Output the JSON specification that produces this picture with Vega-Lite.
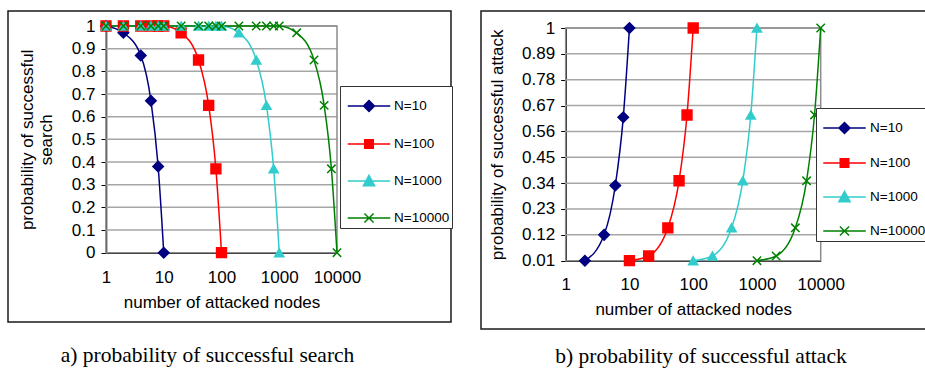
{
  "$schema": "https://vega.github.io/schema/vega-lite/v6.json",
  "padding": {"left": 7, "top": 10, "right": 0, "bottom": 0},
  "background": "white",
  "spacing": 26,
  "config": {
    "font": "Liberation Sans",
    "view": {"stroke": "#1a1a1a", "strokeWidth": 1.5},
    "axis": {"labelFont": "Liberation Sans", "labelFontSize": 17, "labelColor": "black", "titleFont": "Liberation Sans", "titleFontSize": 17, "titleFontWeight": "normal", "titleColor": "black", "grid": false, "domainColor": "black", "tickColor": "black", "domainWidth": 1.5, "labelFlush": false, "labelOverlap": false, "labelExpr": "'' + datum.value"},
    "legend": {"labelFont": "Liberation Sans", "labelFontSize": 13.5, "labelColor": "black"},
    "title": {"font": "Liberation Serif", "fontSize": 21.5, "fontWeight": "normal", "color": "black"}
  },
  "datasets": {
    "search": [
      {"s": "N=10", "x": 1, "y": 1}, {"s": "N=10", "x": 2, "y": 0.97}, {"s": "N=10", "x": 4, "y": 0.87}, {"s": "N=10", "x": 6, "y": 0.67}, {"s": "N=10", "x": 8, "y": 0.38}, {"s": "N=10", "x": 10, "y": 0},
      {"s": "N=100", "x": 1, "y": 1}, {"s": "N=100", "x": 2, "y": 1}, {"s": "N=100", "x": 4, "y": 1}, {"s": "N=100", "x": 6, "y": 1}, {"s": "N=100", "x": 8, "y": 1}, {"s": "N=100", "x": 10, "y": 1}, {"s": "N=100", "x": 20, "y": 0.97}, {"s": "N=100", "x": 40, "y": 0.85}, {"s": "N=100", "x": 60, "y": 0.65}, {"s": "N=100", "x": 80, "y": 0.37}, {"s": "N=100", "x": 100, "y": 0},
      {"s": "N=1000", "x": 1, "y": 1}, {"s": "N=1000", "x": 2, "y": 1}, {"s": "N=1000", "x": 4, "y": 1}, {"s": "N=1000", "x": 6, "y": 1}, {"s": "N=1000", "x": 8, "y": 1}, {"s": "N=1000", "x": 10, "y": 1}, {"s": "N=1000", "x": 20, "y": 1}, {"s": "N=1000", "x": 40, "y": 1}, {"s": "N=1000", "x": 60, "y": 1}, {"s": "N=1000", "x": 80, "y": 1}, {"s": "N=1000", "x": 100, "y": 1}, {"s": "N=1000", "x": 200, "y": 0.97}, {"s": "N=1000", "x": 400, "y": 0.85}, {"s": "N=1000", "x": 600, "y": 0.65}, {"s": "N=1000", "x": 800, "y": 0.37}, {"s": "N=1000", "x": 1000, "y": 0},
      {"s": "N=10000", "x": 1, "y": 1}, {"s": "N=10000", "x": 2, "y": 1}, {"s": "N=10000", "x": 4, "y": 1}, {"s": "N=10000", "x": 6, "y": 1}, {"s": "N=10000", "x": 8, "y": 1}, {"s": "N=10000", "x": 10, "y": 1}, {"s": "N=10000", "x": 20, "y": 1}, {"s": "N=10000", "x": 40, "y": 1}, {"s": "N=10000", "x": 60, "y": 1}, {"s": "N=10000", "x": 80, "y": 1}, {"s": "N=10000", "x": 100, "y": 1}, {"s": "N=10000", "x": 200, "y": 1}, {"s": "N=10000", "x": 400, "y": 1}, {"s": "N=10000", "x": 600, "y": 1}, {"s": "N=10000", "x": 800, "y": 1}, {"s": "N=10000", "x": 1000, "y": 1}, {"s": "N=10000", "x": 2000, "y": 0.97}, {"s": "N=10000", "x": 4000, "y": 0.85}, {"s": "N=10000", "x": 6000, "y": 0.65}, {"s": "N=10000", "x": 8000, "y": 0.37}, {"s": "N=10000", "x": 10000, "y": 0}
    ],
    "attack": [
      {"s": "N=10", "x": 2, "y": 0.01}, {"s": "N=10", "x": 4, "y": 0.12}, {"s": "N=10", "x": 6, "y": 0.33}, {"s": "N=10", "x": 8, "y": 0.62}, {"s": "N=10", "x": 10, "y": 1},
      {"s": "N=100", "x": 10, "y": 0.01}, {"s": "N=100", "x": 20, "y": 0.03}, {"s": "N=100", "x": 40, "y": 0.15}, {"s": "N=100", "x": 60, "y": 0.35}, {"s": "N=100", "x": 80, "y": 0.63}, {"s": "N=100", "x": 100, "y": 1},
      {"s": "N=1000", "x": 100, "y": 0.01}, {"s": "N=1000", "x": 200, "y": 0.03}, {"s": "N=1000", "x": 400, "y": 0.15}, {"s": "N=1000", "x": 600, "y": 0.35}, {"s": "N=1000", "x": 800, "y": 0.63}, {"s": "N=1000", "x": 1000, "y": 1},
      {"s": "N=10000", "x": 1000, "y": 0.01}, {"s": "N=10000", "x": 2000, "y": 0.03}, {"s": "N=10000", "x": 4000, "y": 0.15}, {"s": "N=10000", "x": 6000, "y": 0.35}, {"s": "N=10000", "x": 8000, "y": 0.63}, {"s": "N=10000", "x": 10000, "y": 1}
    ],
    "gridA": [{"y": 0.1}, {"y": 0.2}, {"y": 0.3}, {"y": 0.4}, {"y": 0.5}, {"y": 0.6}, {"y": 0.7}, {"y": 0.8}, {"y": 0.9}, {"y": 1}],
    "gridB": [{"y": 0.12}, {"y": 0.23}, {"y": 0.34}, {"y": 0.45}, {"y": 0.56}, {"y": 0.67}, {"y": 0.78}, {"y": 0.89}, {"y": 1}],
    "one": [{"k": 1}]
  },
  "hconcat": [
    {
      "width": 443, "height": 311,
      "title": {"text": "a) probability of successful search", "orient": "bottom", "offset": 23, "anchor": "middle", "dx": -22},
      "layer": [
        {
          "data": {"name": "gridA"},
          "mark": {"type": "rule", "color": "#a6a6a6", "strokeWidth": 1.5},
          "encoding": {
            "y": {"field": "y", "type": "quantitative", "scale": {"domain": [0, 1], "range": [241.7, 15], "nice": false, "zero": false},
                  "axis": {"values": [0, 0.1, 0.2, 0.3, 0.4, 0.5, 0.6, 0.7, 0.8, 0.9, 1], "tickCount": 30, "offset": -98, "title": ["probability of successful", "search"], "tickSize": 5, "labelPadding": 6, "titlePadding": 16, "labelOverlap": false}},
            "x": {"datum": 1, "type": "quantitative", "scale": {"type": "log", "domain": [1, 10000], "range": [98, 329]},
                  "axis": {"values": [1, 10, 100, 1000, 10000], "tickCount": 30, "offset": -69.3, "ticks": false, "labelPadding": 17, "title": "number of attacked nodes", "titlePadding": 9, "labelOverlap": false}},
            "x2": {"datum": 10000}
          }
        },
        {
          "data": {"name": "one"},
          "mark": {"type": "rect", "fillOpacity": 0, "stroke": "#8c8c8c", "strokeWidth": 1.5},
          "encoding": {
            "x": {"datum": 1, "type": "quantitative"}, "x2": {"datum": 10000},
            "y": {"datum": 0, "type": "quantitative"}, "y2": {"datum": 1}
          }
        },
        {
          "data": {"name": "search"},
          "mark": {"type": "line", "interpolate": "monotone", "strokeWidth": 1.5},
          "encoding": {
            "x": {"field": "x", "type": "quantitative"},
            "y": {"field": "y", "type": "quantitative"},
            "color": {"field": "s", "type": "nominal", "scale": {"range": ["#000080", "#ff0000", "#33cccc", "#008000"]}, "legend": null}
          }
        },
        {
          "data": {"name": "search"},
          "mark": {"type": "point", "filled": true, "opacity": 1, "strokeWidth": 1.5},
          "encoding": {
            "x": {"field": "x", "type": "quantitative"},
            "y": {"field": "y", "type": "quantitative"},
            "color": {"field": "s", "type": "nominal", "legend": null},
            "stroke": {"field": "s", "type": "nominal", "scale": {"range": ["#000080", "#ff0000", "#33cccc", "#008000"]}, "legend": null},
            "shape": {"field": "s", "type": "nominal", "scale": {"range": ["diamond", "square", "triangle-up", "M-1,-1L1,1M-1,1L1,-1"]}, "legend": null},
            "size": {"field": "s", "type": "nominal", "scale": {"range": [110, 70, 110, 80]}, "legend": null}
          }
        },
        {
          "data": {"name": "search"},
          "mark": {"type": "point", "filled": true, "opacity": 0, "strokeWidth": 1.5},
          "encoding": {
            "x": {"field": "x", "type": "quantitative"},
            "y": {"field": "y", "type": "quantitative"},
            "fill": {"field": "s", "type": "nominal", "scale": {"range": ["#000080", "#ff0000", "#33cccc", "#008000"]},
                     "legend": {"title": null, "orient": "none", "legendX": 332, "legendY": 75, "strokeColor": "#333", "fillColor": "white", "padding": 2, "symbolSize": 1156, "symbolOpacity": 1, "symbolStrokeWidth": 1.5, "symbolOffset": 9, "labelOffset": 7, "rowPadding": 11}},
            "stroke": {"field": "s", "type": "nominal", "scale": {"range": ["#000080", "#ff0000", "#33cccc", "#008000"]},
                     "legend": {"title": null, "orient": "none", "legendX": 332, "legendY": 75, "strokeColor": "#333", "fillColor": "white", "padding": 2, "symbolSize": 1156, "symbolOpacity": 1, "symbolStrokeWidth": 1.5, "symbolOffset": 9, "labelOffset": 7, "rowPadding": 11}},
            "shape": {"field": "s", "type": "nominal", "scale": {"range": ["M-1.25,0H1.25M0,-0.32L0.32,0L0,0.32L-0.32,0Z", "M-1.25,0H1.25M-0.25,-0.25H0.25V0.25H-0.25Z", "M-1.25,0H1.25M0,-0.33L0.33,0.28H-0.33Z", "M-1.25,0H1.25M-0.27,-0.27L0.27,0.27M-0.27,0.27L0.27,-0.27"]},
                      "legend": {"title": null, "orient": "none", "legendX": 332, "legendY": 75, "strokeColor": "#333", "fillColor": "white", "padding": 2, "symbolSize": 1156, "symbolOpacity": 1, "symbolStrokeWidth": 1.5, "symbolOffset": 9, "labelOffset": 7, "rowPadding": 11}}
          }
        }
      ],
      "resolve": {"scale": {"shape": "independent", "fill": "independent", "stroke": "independent"}}
    },
    {
      "width": 460, "height": 318,
      "title": {"text": "b) probability of successful attack", "orient": "bottom", "offset": 17, "anchor": "middle", "dx": -10},
      "layer": [
        {
          "data": {"name": "gridB"},
          "mark": {"type": "rule", "color": "#a6a6a6", "strokeWidth": 1.5},
          "encoding": {
            "y": {"field": "y", "type": "quantitative", "scale": {"domain": [0.01, 1], "range": [249.7, 17], "nice": false, "zero": false},
                  "axis": {"values": [0.01, 0.12, 0.23, 0.34, 0.45, 0.56, 0.67, 0.78, 0.89, 1], "tickCount": 30, "offset": -84.7, "title": "probability of successful attack", "tickSize": 5, "labelPadding": 6, "titlePadding": 15, "labelOverlap": false}},
            "x": {"datum": 1, "type": "quantitative", "scale": {"type": "log", "domain": [1, 10000], "range": [84.7, 339.7]},
                  "axis": {"values": [1, 10, 100, 1000, 10000], "tickCount": 30, "offset": -68.3, "ticks": false, "labelPadding": 16, "title": "number of attacked nodes", "titlePadding": 9, "labelOverlap": false}},
            "x2": {"datum": 10000}
          }
        },
        {
          "data": {"name": "one"},
          "mark": {"type": "rect", "fillOpacity": 0, "stroke": "#8c8c8c", "strokeWidth": 1.5},
          "encoding": {
            "x": {"datum": 1, "type": "quantitative"}, "x2": {"datum": 10000},
            "y": {"datum": 0.01, "type": "quantitative"}, "y2": {"datum": 1}
          }
        },
        {
          "data": {"name": "attack"},
          "mark": {"type": "line", "interpolate": "monotone", "strokeWidth": 1.5},
          "encoding": {
            "x": {"field": "x", "type": "quantitative"},
            "y": {"field": "y", "type": "quantitative"},
            "color": {"field": "s", "type": "nominal", "scale": {"range": ["#000080", "#ff0000", "#33cccc", "#008000"]}, "legend": null}
          }
        },
        {
          "data": {"name": "attack"},
          "mark": {"type": "point", "filled": true, "opacity": 1, "strokeWidth": 1.5},
          "encoding": {
            "x": {"field": "x", "type": "quantitative"},
            "y": {"field": "y", "type": "quantitative"},
            "color": {"field": "s", "type": "nominal", "legend": null},
            "stroke": {"field": "s", "type": "nominal", "scale": {"range": ["#000080", "#ff0000", "#33cccc", "#008000"]}, "legend": null},
            "shape": {"field": "s", "type": "nominal", "scale": {"range": ["diamond", "square", "triangle-up", "M-1,-1L1,1M-1,1L1,-1"]}, "legend": null},
            "size": {"field": "s", "type": "nominal", "scale": {"range": [110, 70, 110, 80]}, "legend": null}
          }
        },
        {
          "data": {"name": "attack"},
          "mark": {"type": "point", "filled": true, "opacity": 0, "strokeWidth": 1.5},
          "encoding": {
            "x": {"field": "x", "type": "quantitative"},
            "y": {"field": "y", "type": "quantitative"},
            "fill": {"field": "s", "type": "nominal", "scale": {"range": ["#000080", "#ff0000", "#33cccc", "#008000"]},
                     "legend": {"title": null, "orient": "none", "legendX": 335, "legendY": 97, "strokeColor": "#333", "fillColor": "white", "padding": 2, "symbolSize": 1156, "symbolOpacity": 1, "symbolStrokeWidth": 1.5, "symbolOffset": 8.5, "labelOffset": 7.5, "rowPadding": 8}},
            "stroke": {"field": "s", "type": "nominal", "scale": {"range": ["#000080", "#ff0000", "#33cccc", "#008000"]},
                     "legend": {"title": null, "orient": "none", "legendX": 335, "legendY": 97, "strokeColor": "#333", "fillColor": "white", "padding": 2, "symbolSize": 1156, "symbolOpacity": 1, "symbolStrokeWidth": 1.5, "symbolOffset": 8.5, "labelOffset": 7.5, "rowPadding": 8}},
            "shape": {"field": "s", "type": "nominal", "scale": {"range": ["M-1.25,0H1.25M0,-0.32L0.32,0L0,0.32L-0.32,0Z", "M-1.25,0H1.25M-0.25,-0.25H0.25V0.25H-0.25Z", "M-1.25,0H1.25M0,-0.33L0.33,0.28H-0.33Z", "M-1.25,0H1.25M-0.27,-0.27L0.27,0.27M-0.27,0.27L0.27,-0.27"]},
                      "legend": {"title": null, "orient": "none", "legendX": 335, "legendY": 97, "strokeColor": "#333", "fillColor": "white", "padding": 2, "symbolSize": 1156, "symbolOpacity": 1, "symbolStrokeWidth": 1.5, "symbolOffset": 8.5, "labelOffset": 7.5, "rowPadding": 8}}
          }
        }
      ],
      "resolve": {"scale": {"shape": "independent", "fill": "independent", "stroke": "independent"}}
    }
  ],
  "resolve": {"scale": {"x": "independent", "y": "independent", "color": "independent", "fill": "independent", "stroke": "independent", "shape": "independent", "size": "independent"}}
}
